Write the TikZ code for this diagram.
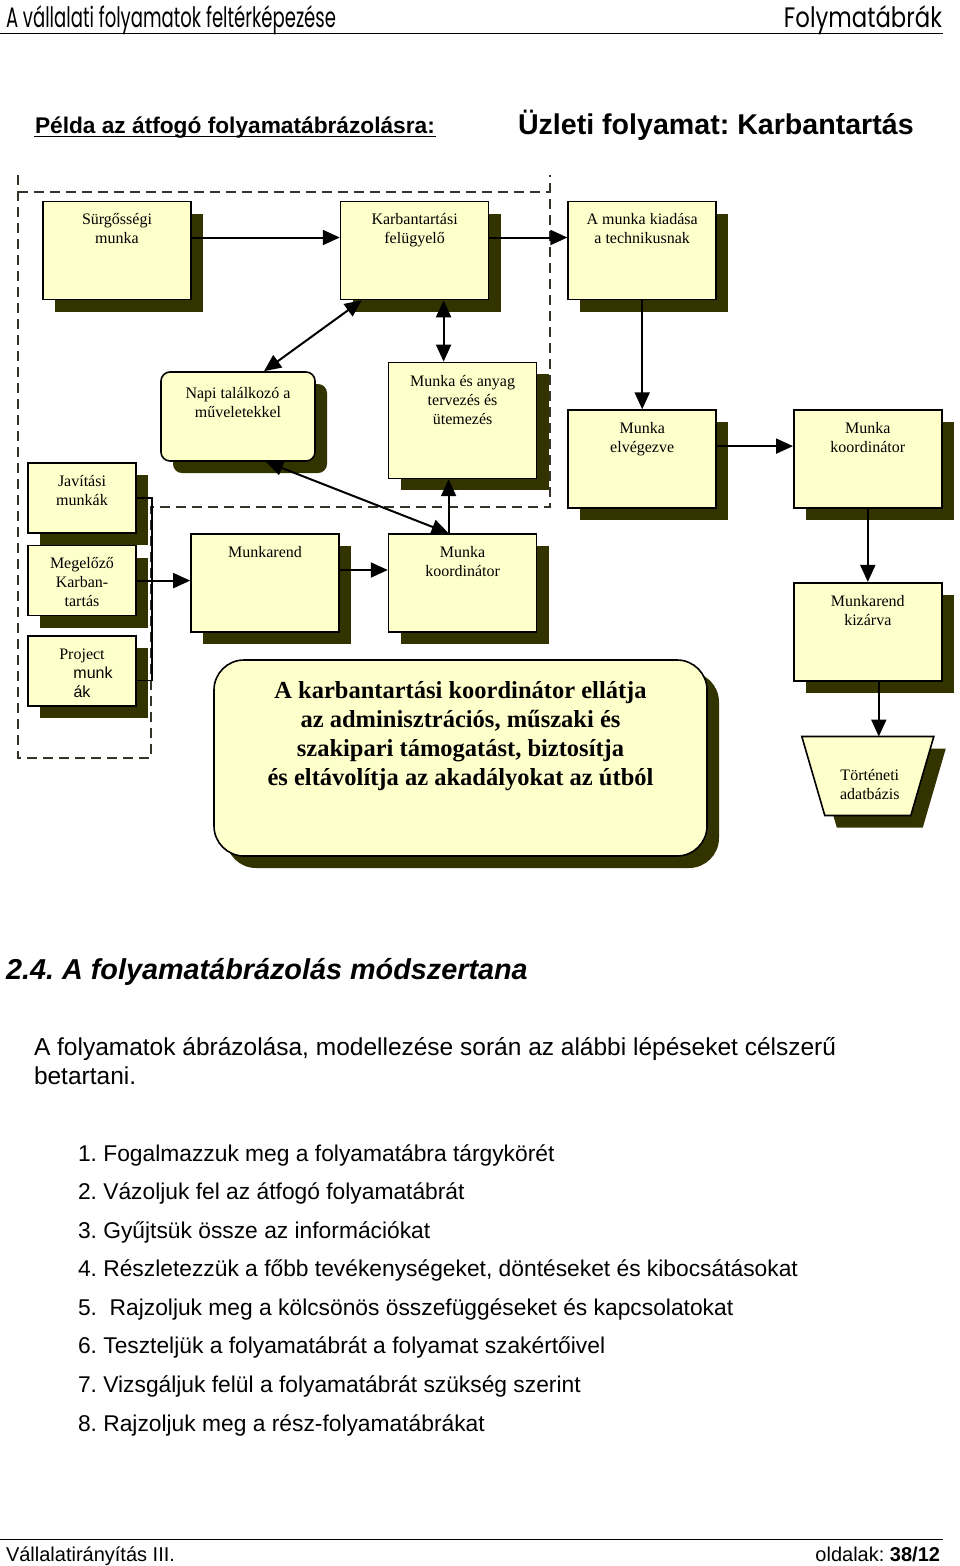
\documentclass[tikz,border=0pt]{standalone}
\usepackage{fontspec}
\setmainfont{Liberation Sans}
\newfontfamily\boxfont{Liberation Serif}
\newfontfamily\headfont{Poppins}
\usetikzlibrary{arrows.meta,positioning,shadows}
\frenchspacing

\definecolor{boxfill}{RGB}{255,255,204}
\definecolor{shadowcol}{RGB}{51,51,0}
\definecolor{dashcol}{RGB}{51,51,40}

\begin{document}
\begin{tikzpicture}[x=1pt, y=-1pt, >={Triangle[length=17pt,width=15pt]},
                line width=2pt,
                boxshadow/.style={drop shadow={shadow xshift=12pt, shadow yshift=-12pt, fill=shadowcol, opacity=1}},
                box/.style={draw, fill=boxfill, line width=1.6pt, inner sep=0pt,
                  minimum width=148pt, minimum height=98pt, boxshadow},
                small box/.style={box, minimum width=108pt, minimum height=70pt},
                store/.style={draw, fill=boxfill, line width=1.6pt, boxshadow},
                boxtext/.style={anchor=north, align=center, inner sep=0pt, yshift=-12pt,
                  font=\boxfont\fontsize{16}{19}\selectfont},
                bigtext/.style={boxtext, yshift=-9pt,
                  font=\boxfont\bfseries\fontsize{24.5}{29}\selectfont},
                dashline/.style={dashcol, line width=1.6pt, dash pattern=on 10pt off 6pt},
                body/.style={anchor=base west, inner sep=0pt, font=\fontsize{22.8}{29}\selectfont}]

  \path[fill=white, use as bounding box] (0,0) rectangle (960,1566);

  % page head
  \node[anchor=base west, inner sep=0pt] (runhead) at (5,27)
    {\resizebox{330pt}{22pt}{\headfont A vállalati folyamatok feltérképezése}};
  \node[anchor=base east, inner sep=0pt] (chapter) at (943,27)
    {\resizebox{158pt}{22pt}{\headfont Folymatábrák}};
  \draw[line width=1pt] (0,33) -- (943,33);

  \node[anchor=base west, inner sep=0pt, font=\fontsize{22.7}{28}\selectfont\bfseries] (example)
    at (34,133) {Példa az átfogó folyamatábrázolásra:};
  \draw[line width=1.5pt] ([yshift=-3.5pt]example.base west) -- ([yshift=-3.5pt]example.base east);
  \node[anchor=base west, inner sep=0pt, font=\fontsize{28.6}{35}\selectfont\bfseries] (process)
    at (517,134) {Üzleti folyamat: Karbantartás};

  % dashed frame
  \draw[dashline] (18,175) -- (18,758) -- (151,758) -- (151,507) -- (550,507) -- (550,175);
  \draw[dashline] (18,192) -- (550,192);

  % boxes
  \node[box, label={[boxtext]north:Sürgősségi\\munka}] (surg) at (117,250.5) {};
  \node[box, label={[boxtext]north:Karbantartási\\felügyelő}] (felugy) [right=148pt of surg] {};
  \node[box, label={[boxtext]north:A munka kiadása\\a technikusnak}] (kiadas) [right=78pt of felugy] {};
  \node[box, rounded corners=9pt, minimum width=154pt, minimum height=89pt,
        label={[boxtext, yshift=-3pt]north:Napi találkozó a\\műveletekkel}] (napi) at (238,416.5) {};
  \node[box, label={[boxtext]north:Munka\\elvégezve}] (elvegez) [below=109pt of kiadas] {};
  \node[box, label={[boxtext]north:Munka\\koordinátor}] (koordR) [right=76pt of elvegez] {};

  \node[small box, label={[boxtext]north:Javítási\\munkák}] (javit) at (82,498) {};
  \node[small box, label={[boxtext]north:Megelőző\\Karban-\\tartás}] (megelozo) [below=11pt of javit] {};
  \node[small box, label={[boxtext]north:Project\\\hspace*{22pt}{\fontspec{Liberation Sans}munk}\\{\fontspec{Liberation Sans}ák}}]
        (project) [below=19pt of megelozo] {};

  \node[box, label={[boxtext]north:Munkarend}] (munkarend) at (265,583) {};
  \node[box, label={[boxtext]north:Munka\\koordinátor}] (koordM) [right=48pt of munkarend] {};
  \node[box, minimum height=116pt, label={[boxtext, yshift=-1pt]north:Munka és anyag\\tervezés és\\ütemezés}]
        (anyag) [above=54pt of koordM] {};
  \node[box, label={[boxtext]north:Munkarend\\kizárva}] (kizarva) [below=73pt of koordR] {};

  % historical database (inverted trapezium)
  \coordinate (hist) at ([yshift=-55pt]kizarva.south);
  \draw[store] ([xshift=-66pt]hist) -- ++(132,0) -- ++(-23,79) -- ++(-86,0) -- cycle;
  \node[boxtext, yshift=-20pt] (histtext) at ([xshift=2pt]hist) {Történeti\\adatbázis};

  \node[box, rounded corners=30pt, minimum width=493pt, minimum height=196pt,
        label={[bigtext]north:{A karbantartási koordinátor ellátja\\az adminisztrációs, műszaki és\\szakipari támogatást, biztosítja\\és eltávolítja az akadályokat az útból}}]
        (goal) at (460.5,758) {};

  % connectors
  \draw[->] ([yshift=13pt]surg.east) -- ([yshift=13pt]felugy.west);
  \draw[->] ([yshift=13pt]felugy.east) -- ([yshift=13pt]kiadas.west);
  \draw[<->] ([xshift=22pt]felugy.south west) -- ([xshift=26pt]napi.north);
  \draw[<->] ([xshift=-19pt]anyag.north |- felugy.south) -- ([xshift=-19pt]anyag.north);
  \draw[->] (kiadas) -- (elvegez);
  \draw[->] ([yshift=13pt]elvegez.east) -- ([yshift=13pt]koordR.west);
  \draw[->] (koordR) -- (kizarva);
  \draw[->] ([xshift=11pt]kizarva.south) -- ([xshift=11pt]hist);

  \draw[line width=1.5pt] (javit.east) -- ++(15,0) |- ([yshift=-9.5pt]project.east);
  \draw[->] (megelozo.east) -- (megelozo.east -| munkarend.west);
  \draw[->] ([yshift=13pt]munkarend.east) -- ([yshift=13pt]koordM.west);
  \draw[->] ([xshift=-14pt]koordM.north) -- ([xshift=-14pt]koordM.north |- anyag.south);
  \draw[<->] ([xshift=28pt]napi.south) -- ([xshift=-14pt]koordM.north);

  % method text
  \node[anchor=base west, inner sep=0pt, font=\fontsize{28.8}{35}\selectfont\bfseries\itshape] (sect)
    at (5,979) {2.4. A folyamatábrázolás módszertana};
  \node[body, font=\fontsize{24.5}{29}\selectfont] (intro1) at (33,1055)
    {A folyamatok ábrázolása, modellezése során az alábbi lépéseket célszerű};
  \node[body, font=\fontsize{24.5}{29}\selectfont] (intro2) at (33,1084) {betartani.};
  \foreach \txt [count=\i] in {{Fogalmazzuk meg a folyamatábra tárgykörét},
      {Vázoljuk fel az átfogó folyamatábrát},
      {Gyűjtsük össze az információkat},
      {Részletezzük a főbb tevékenységeket, döntéseket és kibocsátásokat},
      {\ Rajzoljuk meg a kölcsönös összefüggéseket és kapcsolatokat},
      {Teszteljük a folyamatábrát a folyamat szakértőivel},
      {Vizsgáljuk felül a folyamatábrát szükség szerint},
      {Rajzoljuk meg a rész-folyamatábrákat}}
    \node[body] (step\i) at (77,{1161+38.57*(\i-1)}) {\i. \txt};

  % page foot
  \draw[line width=1pt] (0,1539) -- (943,1539);
  \node[anchor=base west, inner sep=0pt, font=\fontsize{20}{24}\selectfont] (course)
    at (5,1561) {Vállalatirányítás III.};
  \node[anchor=base east, inner sep=0pt, font=\fontsize{20}{24}\selectfont] (pages)
    at (941,1561) {oldalak: \textbf{38/12}};
\end{tikzpicture}
\end{document}
